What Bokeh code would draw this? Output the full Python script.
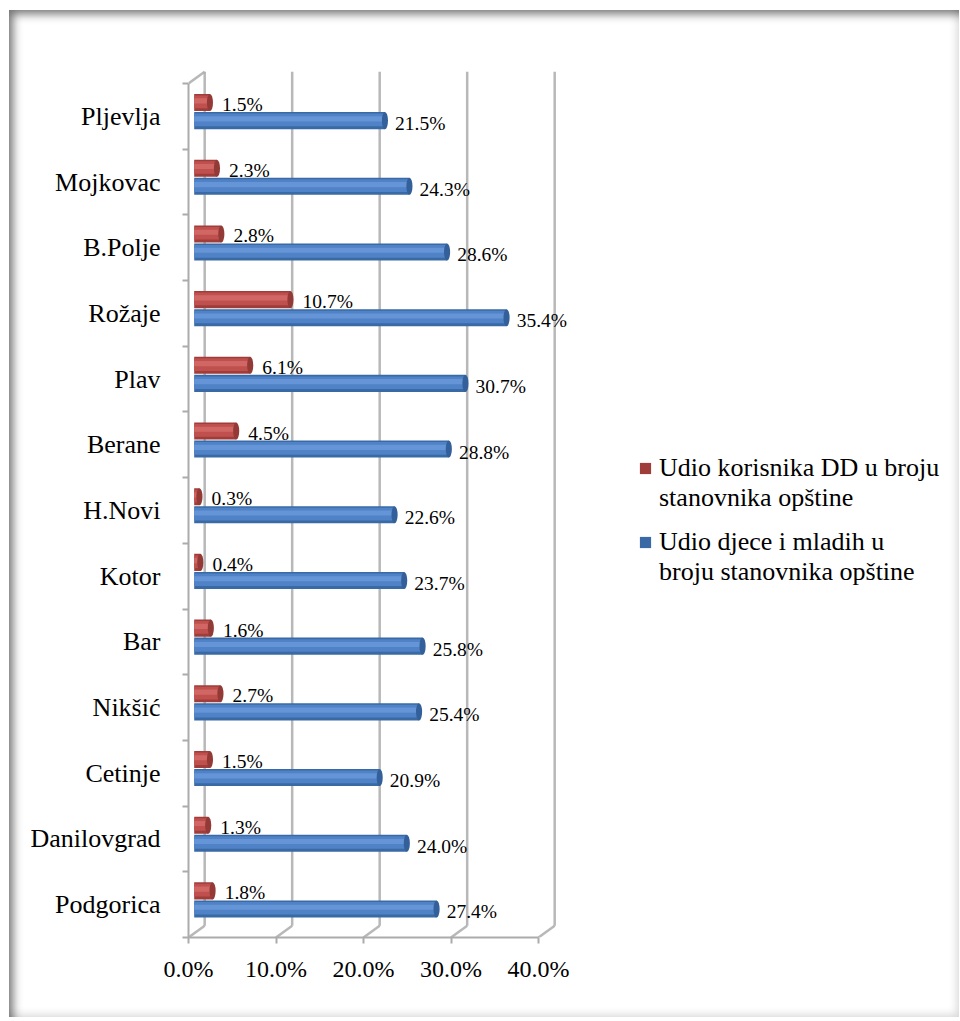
import numpy as np
from bokeh.plotting import figure
from bokeh.models import Range1d, FixedTicker, Legend, LegendItem
from bokeh.core.properties import value
from bokeh.embed import file_html
from bokeh.resources import INLINE

# ---------------- data ----------------
cities = ["Podgorica", "Danilovgrad", "Cetinje", "Nikšić", "Bar", "Kotor", "H.Novi",
          "Berane", "Plav", "Rožaje", "B.Polje", "Mojkovac", "Pljevlja"]
dd_share = [1.8, 1.3, 1.5, 2.7, 1.6, 0.4, 0.3, 4.5, 6.1, 10.7, 2.8, 2.3, 1.5]
youth_share = [27.4, 24.0, 20.9, 25.4, 25.8, 23.7, 22.6, 28.8, 30.7, 35.4, 28.6, 24.3, 21.5]
dd_name = ["Udio korisnika DD u broju", "stanovnika opštine"]
youth_name = ["Udio djece i mladih u", "broju stanovnika opštine"]
x_ticks = [0, 10, 20, 30, 40]
x_tick_labels = ["0.0%", "10.0%", "20.0%", "30.0%", "40.0%"]

# ---------------- style ----------------
FONT = "Liberation Serif"
GRID = "#ababab"
DX, DY = 1.85, 0.18          # 3-D depth offset of the back wall
BAR_START, DEPTH = 0.65, 1.3  # bars sit mid-depth
BAR_H = 0.26
CAP_W = 0.7
RED_OFF, BLUE_OFF = 0.21, -0.065

n = len(cities)
centers = [i + 0.5 for i in range(n)]
bounds = list(range(n + 1))

p = figure(width=950, height=1007, x_range=Range1d(0, 86.4), y_range=Range1d(0, 13.35),
           output_backend="svg", toolbar_location=None,
           min_border_left=179, min_border_right=15, min_border_top=50, min_border_bottom=80)
p.grid.visible = False
p.outline_line_color = None
p.border_fill_alpha = 0
p.background_fill_color = "white"
p.styles = {
    "margin-left": "9px",
    "margin-top": "10px",
    "box-shadow": "inset 8px 8px 10px -4px rgba(0,0,0,0.55), inset -7px -7px 8px -5px rgba(0,0,0,0.16)",
}

# x axis
xa = p.xaxis[0]
xa.ticker = FixedTicker(ticks=x_ticks, minor_ticks=[])
xa.major_label_overrides = {t: l for t, l in zip(x_ticks, x_tick_labels)}
xa.bounds = (x_ticks[0], x_ticks[-1])
xa.axis_line_color = GRID
xa.axis_line_width = 2
xa.major_tick_line_color = GRID
xa.major_tick_line_width = 2
xa.major_tick_out = 6
xa.major_tick_in = 0
xa.minor_tick_out = 0
xa.minor_tick_in = 0
xa.major_label_standoff = 12
xa.major_label_text_font = FONT
xa.major_label_text_font_size = "24px"
xa.major_label_text_color = "black"

# y axis (categories, ticks at boundaries)
ya = p.yaxis[0]
ya.ticker = FixedTicker(ticks=centers, minor_ticks=bounds)
ya.major_label_overrides = {c: name for c, name in zip(centers, cities)}
ya.bounds = (0, n)
ya.axis_line_color = GRID
ya.axis_line_width = 2
ya.major_tick_out = 0
ya.major_tick_in = 0
ya.minor_tick_out = 6
ya.minor_tick_in = 0
ya.minor_tick_line_color = GRID
ya.minor_tick_line_width = 2
ya.major_label_standoff = 22
ya.major_label_text_font = FONT
ya.major_label_text_font_size = "26px"
ya.major_label_text_color = "black"

# 3-D back wall & floor
xt = np.array(x_ticks, dtype=float)
p.segment(x0=xt + DX, y0=DY, x1=xt + DX, y1=n + DY, line_color=GRID, line_width=2.5, line_alpha=0.85)
p.segment(x0=xt, y0=0, x1=xt + DX, y1=DY, line_color=GRID, line_width=2.5, line_alpha=0.85)
p.segment(x0=[0], y0=[n], x1=[DX], y1=[n + DY], line_color=GRID, line_width=2.5, line_alpha=0.85)


def cyl_bars(vals, off, dark, mid, light, cap):
    v = np.array(vals, dtype=float)
    y = np.array(centers) + off
    right = v + DEPTH - CAP_W / 2
    base = p.hbar(y=y, left=BAR_START, right=right, height=BAR_H,
                  fill_color=dark, line_color=None)
    p.hbar(y=y + BAR_H * 0.04, left=BAR_START, right=right, height=BAR_H * 0.74,
           fill_color=mid, line_color=None)
    p.hbar(y=y + BAR_H * 0.1, left=BAR_START, right=right, height=BAR_H * 0.3,
           fill_color=light, fill_alpha=0.8, line_color=None)
    p.ellipse(x=right, y=y, width=CAP_W, height=BAR_H,
              fill_color=cap, line_color=None)
    return base, v, y


red_r, rv, ry = cyl_bars(dd_share, RED_OFF, "#9e3d3a", "#c0504d", "#d46d6a", "#933a37")
blue_r, bv, by = cyl_bars(youth_share, BLUE_OFF, "#396aa5", "#4f82c6", "#6a9ad9", "#33609a")

p.text(x=rv + DEPTH, y=ry, text=[f"{v:.1f}%" for v in dd_share], x_offset=9, y_offset=2,
       text_font=value(FONT), text_font_size="19.5px", text_baseline="middle",
       text_color="black")
p.text(x=bv + DEPTH, y=by, text=[f"{v:.1f}%" for v in youth_share], x_offset=7, y_offset=3,
       text_font=value(FONT), text_font_size="19.5px", text_baseline="middle",
       text_color="black")

# legend (two-line labels via a blank second item)
blank = p.hbar(y=[], right=[], height=0.1, fill_alpha=0, line_alpha=0)


def make_legend(renderer, lines, loc):
    lg = Legend(items=[LegendItem(label=lines[0], renderers=[renderer]),
                       LegendItem(label=lines[1], renderers=[blank])],
                location=loc, padding=0, margin=0, spacing=0,
                label_height=29, glyph_height=14, glyph_width=14, label_standoff=7,
                border_line_color=None, background_fill_alpha=0,
                label_text_font=FONT, label_text_font_size="26px", label_text_color="black")
    p.add_layout(lg)


make_legend(red_r, dd_name, (450, 424))
make_legend(blue_r, youth_name, (450, 350))

open("out.html", "w").write(file_html(p, INLINE))
